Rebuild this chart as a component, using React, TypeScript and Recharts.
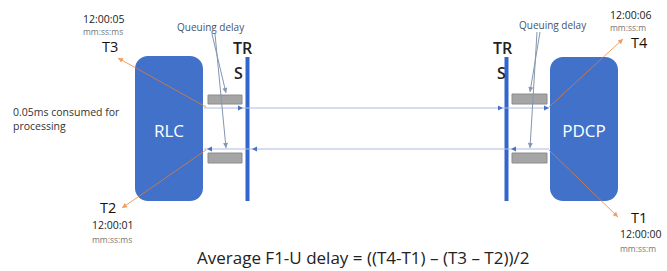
import React from "react";
import {
  ScatterChart,
  Scatter,
  XAxis,
  YAxis,
  ReferenceArea,
  ReferenceLine,
  ReferenceDot,
} from "recharts";

// diagram units: x 0..667 left→right, y 0..271 top→bottom
const blocks = [
  { name: "RLC", x1: 135, x2: 203, y1: 56, y2: 201 },
  { name: "PDCP", x1: 550, x2: 618, y1: 57, y2: 201 },
];

const trsBars = [
  { x1: 245.5, x2: 249.5, y1: 57, y2: 201 },
  { x1: 504.5, x2: 508.5, y1: 57, y2: 201 },
];

const queues = [
  { x1: 208, x2: 242, y1: 95, y2: 104 },
  { x1: 208, x2: 242, y1: 153, y2: 163 },
  { x1: 512, x2: 547, y1: 94, y2: 104 },
  { x1: 512, x2: 547, y1: 153, y2: 163 },
];

const links = [
  { from: { x: 204, y: 108 }, to: { x: 549, y: 108 } },
  { from: { x: 549, y: 149 }, to: { x: 204, y: 149 } },
];

const linkArrows = [
  { x: 243, y: 108, dir: 1 },
  { x: 503, y: 108, dir: 1 },
  { x: 549, y: 108, dir: 1 },
  { x: 207, y: 149, dir: -1 },
  { x: 252, y: 149, dir: -1 },
  { x: 511, y: 149, dir: -1 },
];

const queuePointers = [
  { from: { x: 212, y: 34 }, to: { x: 226, y: 93 } },
  { from: { x: 215, y: 34 }, to: { x: 226, y: 148 } },
  { from: { x: 540, y: 32 }, to: { x: 530, y: 92 } },
  { from: { x: 537, y: 32 }, to: { x: 530, y: 148 } },
];

const stamps = [
  { tag: "T3", port: { x: 206, y: 107 }, dot: { x: 118, y: 58 } },
  { tag: "T2", port: { x: 206, y: 150 }, dot: { x: 122, y: 208 } },
  { tag: "T4", port: { x: 549, y: 107 }, dot: { x: 623, y: 39 } },
  { tag: "T1", port: { x: 549, y: 150 }, dot: { x: 618, y: 217 } },
];

const labels = [
  { kind: "time", text: "12:00:05", x: 83, y: 23 },
  { kind: "unit", text: "mm:ss:ms", x: 83, y: 35 },
  { kind: "tag", text: "T3", x: 102, y: 52 },
  { kind: "queue", text: "Queuing delay", x: 177, y: 31 },
  { kind: "trs", text: "TR", x: 233, y: 54 },
  { kind: "trs", text: "S", x: 234, y: 79 },
  { kind: "note", text: "0.05ms consumed for", x: 13, y: 116 },
  { kind: "note", text: "processing", x: 13, y: 130 },
  { kind: "block", text: "RLC", x: 169, y: 137 },
  { kind: "block", text: "PDCP", x: 584, y: 137 },
  { kind: "tag", text: "T2", x: 100, y: 213 },
  { kind: "time", text: "12:00:01", x: 92, y: 229 },
  { kind: "unit", text: "mm:ss:ms", x: 92, y: 243 },
  { kind: "queue", text: "Queuing delay", x: 519, y: 29 },
  { kind: "trs", text: "TR", x: 493, y: 54 },
  { kind: "trs", text: "S", x: 497, y: 79 },
  { kind: "time", text: "12:00:06", x: 610, y: 19 },
  { kind: "unit", text: "mm:ss:m", x: 610, y: 31 },
  { kind: "tag", text: "T4", x: 631, y: 48 },
  { kind: "tag", text: "T1", x: 631, y: 223 },
  { kind: "time", text: "12:00:00", x: 620, y: 238 },
  { kind: "unit", text: "mm:ss:m", x: 620, y: 252 },
  { kind: "formula", text: "Average F1-U delay = ((T4-T1) \u2013 (T3 \u2013 T2))/2", x: 197, y: 264 },
];

const FONT = "'Open Sans', 'Noto Sans', sans-serif";
const BLUE = "#4171C8";

const textStyle: Record<string, any> = {
  time: { fontSize: 10.5, fill: "#222" },
  unit: { fontSize: 8.5, fill: "#777" },
  tag: { fontSize: 14.5, fill: "#111" },
  queue: { fontSize: 10, fill: "#44546A" },
  trs: { fontSize: 16, fill: "#222", fontWeight: 600 },
  note: { fontSize: 10.5, fill: "#333" },
  block: { fontSize: 17, fill: "#fff", textAnchor: "middle" },
  formula: { fontSize: 17, fill: "#222" },
};

const arrowLine = (color: string, width: number, head: number, opacity = 1) => (p: any) => {
  const { x1, y1, x2, y2 } = p;
  const a = Math.atan2(y2 - y1, x2 - x1);
  const bx = x2 - head * Math.cos(a);
  const by = y2 - head * Math.sin(a);
  const nx = -Math.sin(a) * head * 0.5;
  const ny = Math.cos(a) * head * 0.5;
  return (
    <g opacity={opacity}>
      <line x1={x1} y1={y1} x2={x2} y2={y2} stroke={color} strokeWidth={width} />
      {head > 0 && (
        <polygon
          points={`${x2},${y2} ${bx + nx},${by + ny} ${bx - nx},${by - ny}`}
          fill={color}
        />
      )}
    </g>
  );
};

const roundedBox = (p: any) => (
  <rect x={p.x} y={p.y} width={p.width} height={p.height} rx={13} ry={13} fill={BLUE} />
);

const labelShape = (p: any) => {
  const d = p.payload;
  return (
    <text x={p.cx} y={p.cy} fontFamily={FONT} {...textStyle[d.kind]}>
      {d.text}
    </text>
  );
};

export default function App() {
  return (
    <div style={{ width: 667, height: 271, background: "#fff" }}>
      <style>{`body{margin:0}`}</style>
      <ScatterChart width={667} height={271} margin={{ top: 0, right: 0, bottom: 0, left: 0 }}>
        <XAxis type="number" dataKey="x" domain={[0, 667]} allowDataOverflow hide />
        <YAxis type="number" dataKey="y" domain={[0, 271]} allowDataOverflow reversed hide />

        {blocks.map((b) => (
          <ReferenceArea
            key={b.name}
            x1={b.x1}
            x2={b.x2}
            y1={b.y1}
            y2={b.y2}
            shape={roundedBox}
          />
        ))}
        {trsBars.map((b, i) => (
          <ReferenceArea key={`trs${i}`} x1={b.x1} x2={b.x2} y1={b.y1} y2={b.y2} fill="#3366CC" fillOpacity={1} />
        ))}
        {queues.map((q, i) => (
          <ReferenceArea
            key={`q${i}`}
            x1={q.x1}
            x2={q.x2}
            y1={q.y1}
            y2={q.y2}
            fill="#A5A5A5"
            fillOpacity={1}
            stroke="#8C8C8C"
          />
        ))}
        {links.map((l, i) => (
          <ReferenceLine key={`l${i}`} segment={[l.from, l.to]} shape={arrowLine("#A9BCE3", 1.2, 0)} />
        ))}
        {linkArrows.map((a, i) => (
          <ReferenceDot
            key={`a${i}`}
            x={a.x}
            y={a.y}
            r={3}
            shape={(p: any) => (
              <polygon
                points={`${p.cx},${p.cy} ${p.cx - 5 * a.dir},${p.cy - 2.5} ${p.cx - 5 * a.dir},${p.cy + 2.5}`}
                fill="#4472C4"
              />
            )}
          />
        ))}
        {queuePointers.map((q, i) => (
          <ReferenceLine key={`qp${i}`} segment={[q.from, q.to]} shape={arrowLine("#8496B0", 1, 5)} />
        ))}
        {stamps.map((s) => (
          <ReferenceLine
            key={s.tag}
            segment={[s.port, s.dot]}
            shape={arrowLine("#ED7D31", 1, 5, 0.75)}
          />
        ))}
        <Scatter data={labels} shape={labelShape} isAnimationActive={false} />
      </ScatterChart>
    </div>
  );
}
